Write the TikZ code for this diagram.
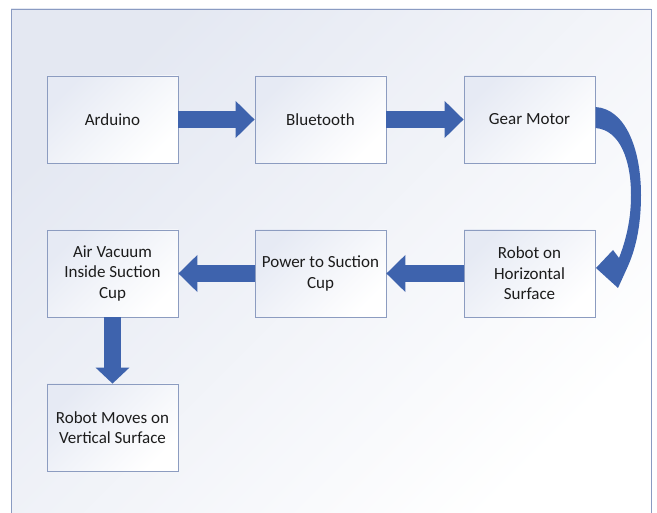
\documentclass[tikz,border=0pt]{standalone}
\usepackage{fontspec}
\setmainfont{Carlito}
\usetikzlibrary{arrows.meta}
\definecolor{arrowblue}{HTML}{3E63AD}
\definecolor{boxline}{HTML}{8C9CC0}
\definecolor{frameline}{HTML}{8A9BC2}
\definecolor{bgtint}{HTML}{E4E8F2}
\definecolor{boxtint}{HTML}{E6EAF4}
\definecolor{textdark}{HTML}{1C1C1C}
\begin{document}
\begin{tikzpicture}[x=1pt,y=-1pt,
  box/.style={draw=boxline, line width=0.8pt, minimum width=131pt, minimum height=87pt,
    inner sep=2pt, align=center, font=\fontsize{17}{20.5}\selectfont, text=textdark,
    top color=boxtint, bottom color=white, shading angle=45},
  flow/.style={arrowblue, line width=17pt, -{Triangle[width=36pt,length=19pt]}}]
\useasboundingbox (0,0) rectangle (657,513);
\begin{scope}
\clip (0,0) rectangle (657,513);
\shade[top color=bgtint, bottom color=white, shading angle=45] (11,9) rectangle (651,520);
\draw[frameline, line width=0.8pt] (11,520) -- (11,9) -- (651,9) -- (651,520);
\end{scope}
\node[box] (ard) at (112.5,119.5) {Arduino};
\node[box] (bt) at (320.5,119.5) {Bluetooth};
\node[box] (gear) at (529.5,119.5) {Gear Motor};
\node[box] (robot) at (529.5,273.5) {Robot on\\Horizontal\\Surface};
\node[box] (power) at (320.5,273.5) {Power to Suction\\Cup};
\node[box] (vac) at (112.5,273.5) {Air Vacuum\\Inside Suction\\Cup};
\node[box] (vert) at (112.5,427.5) {Robot Moves on\\Vertical Surface};
\draw[flow] (ard.east) -- (bt.west);
\draw[flow] (bt.east) -- (gear.west);
\draw[flow] (robot.west) -- (power.east);
\draw[flow] (power.west) -- (vac.east);
\draw[flow, -{Triangle[width=33pt,length=16pt]}] (vac.south) -- (vert.north);
\fill[arrowblue] (595.5,107) .. controls (626,109) and (641,150) .. (641,195)
  .. controls (641,228) and (635,250) .. (628,266) -- (618,288) -- (596,268) -- (613,250)
  -- (619,258) .. controls (626,240) and (631,220) .. (631,195)
  .. controls (631,160) and (620,130) .. (595.5,128) -- cycle;
\end{tikzpicture}
\end{document}
